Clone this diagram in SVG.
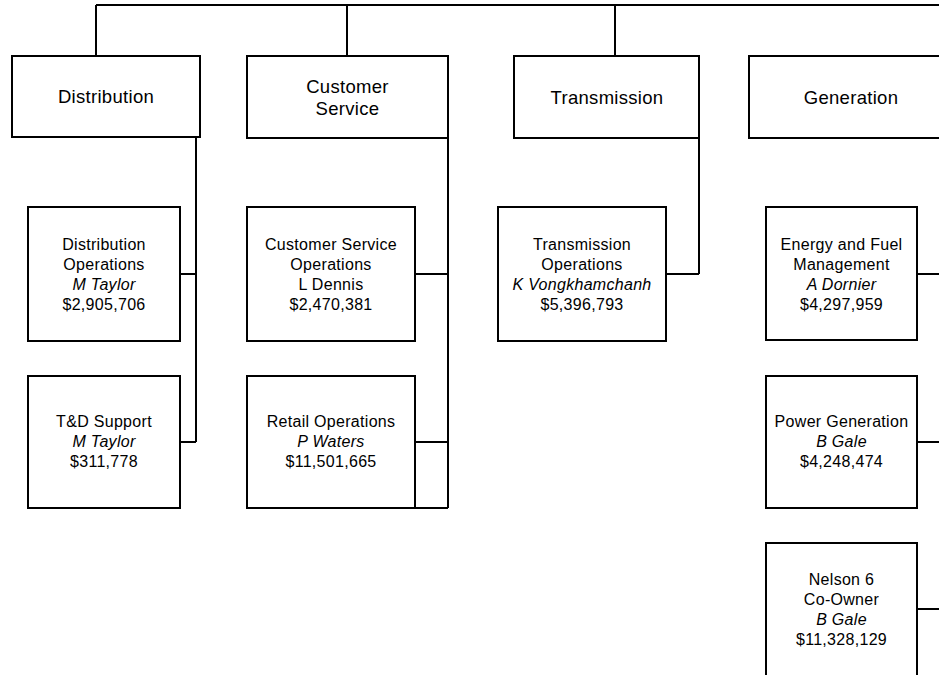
<svg xmlns="http://www.w3.org/2000/svg" width="939" height="675" viewBox="0 0 939 675">
<style>
.box{fill:#fff;stroke:#000;stroke-width:2}
.ln{fill:none;stroke:#000;stroke-width:2}
text{font-family:"Liberation Sans",Arial,sans-serif;fill:#000;text-anchor:middle}
.h{font-size:18.5px;letter-spacing:0.3px}
.c{font-size:16px;letter-spacing:0.3px}
.i{font-style:italic}
</style>
<rect width="939" height="675" fill="#fff"/>
<g id="connectors">
<path class="ln" d="M96,5H940M96,5V56M347,5V56M615,5V56"/>
<path class="ln" d="M196,137V442M180,274H196M180,442H196"/>
<path class="ln" d="M448,138V508M415,274H448M415,442H448M415,508H448"/>
<path class="ln" d="M699,138V274M666,274H699"/>
<path class="ln" d="M917,274H940M917,442H940M917,609H940"/>
</g>
<g id="distribution"><rect class="box" x="12" y="56" width="188" height="81"/><text class="h" x="106" y="103">Distribution</text></g>
<g id="customer-service"><rect class="box" x="247" y="56" width="201" height="82"/><text class="h" x="347.5" y="93">Customer</text><text class="h" x="347.5" y="115">Service</text></g>
<g id="transmission"><rect class="box" x="514" y="56" width="185" height="82"/><text class="h" x="607" y="104">Transmission</text></g>
<g id="generation"><rect class="box" x="749" y="56" width="204" height="82"/><text class="h" x="851" y="104">Generation</text></g>
<g id="distribution-operations"><rect class="box" x="28" y="207" width="152" height="134"/><text class="c" x="104" y="250">Distribution</text><text class="c" x="104" y="270">Operations</text><text class="c i" x="104" y="290">M Taylor</text><text class="c" x="104" y="310">$2,905,706</text></g>
<g id="td-support"><rect class="box" x="28" y="376" width="152" height="132"/><text class="c" x="104" y="427">T&amp;D Support</text><text class="c i" x="104" y="447">M Taylor</text><text class="c" x="104" y="467">$311,778</text></g>
<g id="customer-service-operations"><rect class="box" x="247" y="207" width="168" height="134"/><text class="c" x="331" y="250">Customer Service</text><text class="c" x="331" y="270">Operations</text><text class="c" x="331" y="290">L Dennis</text><text class="c" x="331" y="310">$2,470,381</text></g>
<g id="retail-operations"><rect class="box" x="247" y="376" width="168" height="132"/><text class="c" x="331" y="427">Retail Operations</text><text class="c i" x="331" y="447">P Waters</text><text class="c" x="331" y="467">$11,501,665</text></g>
<g id="transmission-operations"><rect class="box" x="498" y="207" width="168" height="134"/><text class="c" x="582" y="250">Transmission</text><text class="c" x="582" y="270">Operations</text><text class="c i" x="582" y="290">K Vongkhamchanh</text><text class="c" x="582" y="310">$5,396,793</text></g>
<g id="energy-fuel-management"><rect class="box" x="766" y="207" width="151" height="133"/><text class="c" x="841.5" y="250">Energy and Fuel</text><text class="c" x="841.5" y="270">Management</text><text class="c i" x="841.5" y="290">A Dornier</text><text class="c" x="841.5" y="310">$4,297,959</text></g>
<g id="power-generation"><rect class="box" x="766" y="376" width="151" height="132"/><text class="c" x="841.5" y="427">Power Generation</text><text class="c i" x="841.5" y="447">B Gale</text><text class="c" x="841.5" y="467">$4,248,474</text></g>
<g id="nelson-6"><rect class="box" x="766" y="543" width="151" height="134"/><text class="c" x="841.5" y="585">Nelson 6</text><text class="c" x="841.5" y="605">Co-Owner</text><text class="c i" x="841.5" y="625">B Gale</text><text class="c" x="841.5" y="645">$11,328,129</text></g>
</svg>
